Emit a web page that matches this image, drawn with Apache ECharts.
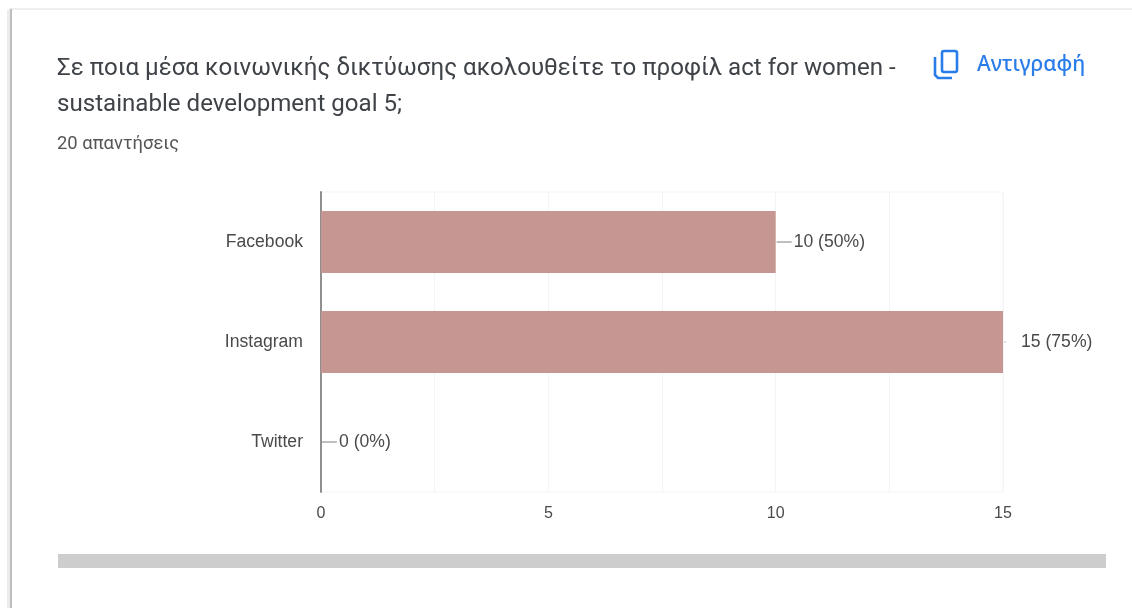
<!DOCTYPE html>
<html>
<head>
<meta charset="utf-8">
<style>
html,body{margin:0;padding:0;background:#fff}
#chart{width:1132px;height:608px}
</style>
<script src="https://cdn.jsdelivr.net/npm/echarts@6/dist/echarts.min.js"></script>
</head>
<body>
<div id="chart"></div>
<script>
const categories = ['Facebook', 'Instagram', 'Twitter'];
const responses = [10, 15, 0];
const totalResponses = 20;
const tickLabels = [0, 5, 10, 15];
const questionLines = [
  'Σε ποια μέσα κοινωνικής δικτύωσης ακολουθείτε το προφίλ act for women -',
  'sustainable development goal 5;'
];
const responseCaption = totalResponses + ' απαντήσεις';
const copyCaption = 'Αντιγραφή';

const textColor = '#4a4a4a';
const blue = '#2a7de9';
const peak = Math.max(...responses);
const chart = echarts.init(document.getElementById('chart'), null, {renderer: 'canvas'});

chart.setOption({
  animation: false,
  backgroundColor: '#fff',
  grid: {left: 321, right: 129, top: 192, bottom: 116, show: true, borderColor: '#f4f4f4', borderWidth: 1},
  xAxis: {
    type: 'value', min: 0, max: 15, interval: 2.5,
    axisLine: {show: false}, axisTick: {show: false},
    splitLine: {lineStyle: {color: '#f4f4f4', width: 1}},
    axisLabel: {
      color: textColor, fontFamily: 'Liberation Sans', fontSize: 16, margin: 14,
      formatter: v => tickLabels.includes(v) ? String(v) : ''
    }
  },
  yAxis: {
    type: 'category', inverse: true, data: categories,
    axisLine: {lineStyle: {color: '#8f8f8f', width: 2}},
    axisTick: {show: false},
    axisLabel: {color: textColor, fontFamily: 'Liberation Sans', fontSize: 17.6, margin: 18, padding: [2, 0, 0, 0]}
  },
  series: [
    {
      type: 'bar', data: responses, barWidth: 62, z: 2,
      itemStyle: {color: '#c59692'},
      label: {
        show: true, position: 'right', distance: 18,
        color: textColor, fontFamily: 'Liberation Sans', fontSize: 17.6, padding: [2, 0, 0, 0],
        formatter: p => p.value + ' (' + (p.value / totalResponses * 100) + '%)'
      }
    },
    {
      // Short leader from each bar end towards its value label
      type: 'custom', data: responses.map((v, i) => [v, i]), z: 3, silent: true,
      encode: {x: 0, y: 1},
      renderItem: (params, api) => {
        const p = api.coord([api.value(0), api.value(1)]);
        const len = api.value(0) === peak ? 3 : 16;
        return {
          type: 'line',
          shape: {x1: p[0] + 1, y1: p[1], x2: p[0] + len, y2: p[1]},
          style: {stroke: api.value(0) === peak ? '#d6d6d6' : '#aaaaaa', lineWidth: 1.5}
        };
      }
    }
  ],
  graphic: [
    // Card edges
    {type: 'rect', z: -1, shape: {x: 9, y: 8, width: 1123, height: 2}, style: {fill: '#eeeeee'}},
    {type: 'rect', z: -1, shape: {x: 10, y: 9, width: 2, height: 599}, style: {fill: '#bdbdbd'}},
    {type: 'rect', z: -1, shape: {x: 7, y: 10, width: 3, height: 598}, style: {fill: '#ebebeb'}},
    // Question and response count
    {type: 'text', x: 57, y: 57, style: {text: questionLines[0], fill: '#3f4348', font: '400 24.1px Roboto'}},
    {type: 'text', x: 57, y: 93, style: {text: questionLines[1], fill: '#3f4348', font: '400 24.1px Roboto'}},
    {type: 'text', x: 57, y: 135, style: {text: responseCaption, fill: '#555', font: '400 18.4px Roboto'}},
    // Copy button
    {type: 'rect', shape: {x: 942, y: 51, width: 15, height: 21, r: 2}, style: {fill: 'none', stroke: blue, lineWidth: 2.6}},
    {type: 'polyline', shape: {points: [[935, 57], [935, 75], [938, 78], [952, 78]]}, style: {fill: 'none', stroke: blue, lineWidth: 2.6}},
    {type: 'text', x: 977, y: 55, style: {text: copyCaption, fill: blue, font: '500 21px "Noto Sans"'}},
    // Bottom divider
    {type: 'rect', shape: {x: 58, y: 554, width: 1048, height: 14}, style: {fill: '#cdcdcd'}}
  ]
});
</script>
</body>
</html>
